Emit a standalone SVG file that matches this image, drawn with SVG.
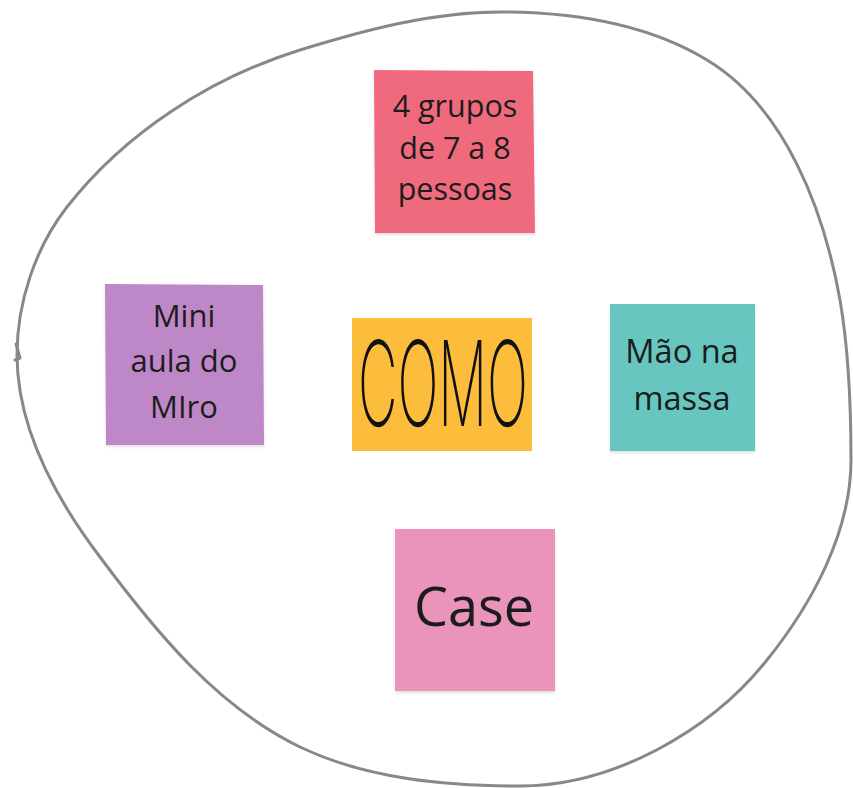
<svg xmlns="http://www.w3.org/2000/svg" width="853" height="788" viewBox="0 0 853 788">
<defs>
<style>
.note{stroke:none}
.lbl{font-family:"Open Sans","Noto Sans","Liberation Sans",sans-serif;fill:#1c1c1c;text-anchor:middle}
.blob{fill:none;stroke:#888888;stroke-width:3;stroke-linejoin:round;stroke-linecap:round}
.como{font-family:Inter,"Liberation Sans",sans-serif;font-weight:200;fill:#111;text-anchor:middle}
</style>
<filter id="sh" x="-10%" y="-10%" width="120%" height="125%">
<feDropShadow dx="0" dy="2" stdDeviation="1.5" flood-color="#000" flood-opacity="0.12"/>
</filter>
</defs>
<rect width="853" height="788" fill="#ffffff"/>
<g id="boundary">
<path class="blob" d="M17,355 C17,303 35,248 67,207 C125,133 210,78 300,50 C365,30 432,12 500,12 C571,12 646,23 707,60 C785,107 824,210 840,300 C849,352 851,407 851,460 C851,532 812,604 767,660 C710,732 612,786 520,786 C446,786 367,779 300,747 C217,707 155,631 100,557 C56,499 17,428 17,355 Z"/>
<path class="blob" d="M16,344 L20,358 L15,360" stroke-width="2"/>
</g>
<g id="connectors"/>
<g id="note-grupos">
<polygon class="note" filter="url(#sh)" fill="#f06b7e" points="374,70 533,71 535,233 375,233"/>
<text class="lbl" font-size="30.5"><tspan x="455" y="117">4 grupos</tspan><tspan x="455" y="159">de 7 a 8</tspan><tspan x="455" y="200">pessoas</tspan></text>
</g>
<g id="note-miniaula">
<polygon class="note" filter="url(#sh)" fill="#be87c7" points="105,284 263,285 264,445 106,445"/>
<text class="lbl" font-size="31"><tspan x="184" y="327">Mini</tspan><tspan x="184" y="372">aula do</tspan><tspan x="184" y="418">MIro</tspan></text>
</g>
<g id="note-como">
<rect class="note" fill="#fcbd3c" x="352" y="318" width="180" height="133"/>
<text class="como" x="443" y="426" font-size="118" textLength="170" lengthAdjust="spacingAndGlyphs">COMO</text>
</g>
<g id="note-mao">
<rect class="note" filter="url(#sh)" fill="#67c6c0" x="610" y="304" width="145" height="147"/>
<text class="lbl" font-size="32.5"><tspan x="682" y="363">Mão na</tspan><tspan x="682" y="410">massa</tspan></text>
</g>
<g id="note-case">
<rect class="note" filter="url(#sh)" fill="#ea93bb" x="395" y="529" width="160" height="162"/>
<text class="lbl" font-size="54" x="474" y="626">Case</text>
</g>
</svg>
